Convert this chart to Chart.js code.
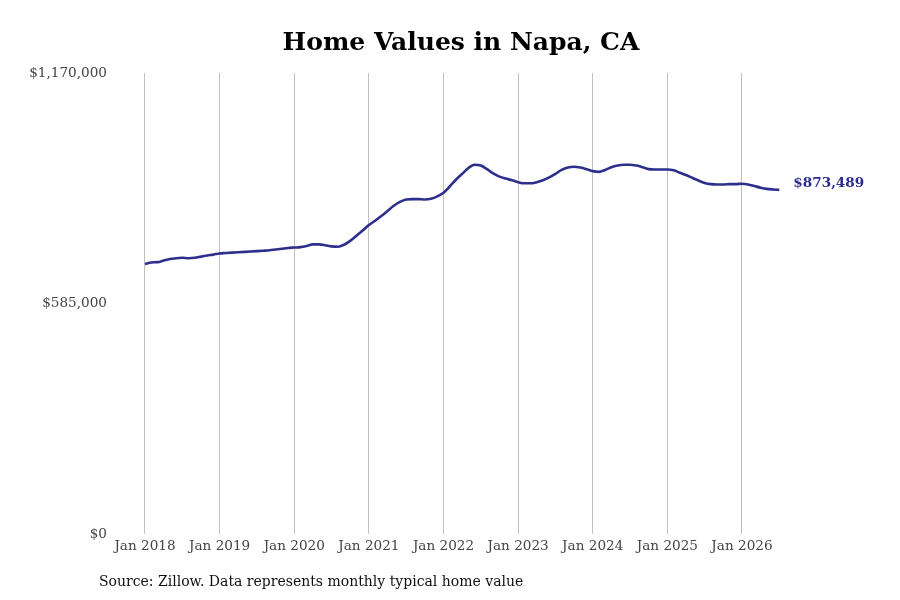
<!DOCTYPE html>
<html>
<head>
<meta charset="utf-8">
<script src="https://cdn.jsdelivr.net/npm/chart.js@4.4.1/dist/chart.umd.min.js"></script>
<style>
  html, body { margin: 0; padding: 0; background: #ffffff; }
  #wrap { width: 900px; height: 600px; position: relative; }
</style>
</head>
<body>
<div id="wrap"><canvas id="c" width="900" height="600"></canvas></div>
<script>
// ---- Data (monthly typical home value, starting Jan 2018) ----
const startYear = 2018;
const homeValues = [
  685000, 689000, 690000, 694000, 698000, 700000, 701000, 700000, 701000, 704000, 707000, 709000,
  712000, 713000, 714000, 715000, 716000, 717000, 718000, 719000, 720000, 722000, 724000, 726000,
  727000, 728000, 731000, 735000, 735000, 733000, 730000, 729000, 734000, 744000, 757000, 770000,
  784000, 795000, 807000, 820000, 833000, 843000, 849000, 850000, 850000, 849000, 851000, 857000,
  866000, 882000, 899000, 914000, 929000, 937000, 935000, 926000, 915000, 907000, 902000, 898000,
  893000, 890000, 890000, 893000, 898000, 905000, 914000, 924000, 930000, 932000, 930000, 926000,
  921000, 919000, 924000, 931000, 935000, 937000, 937000, 935000, 931000, 926000, 925000, 925000,
  925000, 923000, 917000, 911000, 904000, 897000, 891000, 888000, 887000, 887000, 888000, 888000,
  889000, 887000, 883000, 879000, 876000, 874500, 873489
];
const xTickLabels = ["Jan 2018","Jan 2019","Jan 2020","Jan 2021","Jan 2022","Jan 2023","Jan 2024","Jan 2025","Jan 2026"];
const yTickValues = [0, 585000, 1170000];
const titleText = "Home Values in Napa, CA";
const sourceText = "Source: Zillow. Data represents monthly typical home value";

const lineColor = "#2e2e8c";
const points = homeValues.map((v, i) => ({ x: i, y: v }));
const fmt = v => "$" + Math.round(v).toLocaleString("en-US");

const overlay = {
  id: "overlay",
  afterDatasetsDraw(chart) {
    const ctx = chart.ctx;
    const meta = chart.getDatasetMeta(0);
    const last = meta.data[meta.data.length - 1];
    ctx.save();
    ctx.font = "bold 13.6px 'DejaVu Serif'";
    ctx.fillStyle = lineColor;
    ctx.textAlign = "left";
    ctx.textBaseline = "middle";
    ctx.fillText(fmt(homeValues[homeValues.length - 1]), last.x + 14, last.y - 6.5);
    ctx.font = "14px 'DejaVu Serif'";
    ctx.fillStyle = "#111111";
    ctx.fillText(sourceText, 99, 582);
    ctx.restore();
  }
};

new Chart(document.getElementById("c"), {
  type: "line",
  data: {
    datasets: [{
      data: points,
      borderColor: lineColor,
      borderWidth: 2.6,
      pointRadius: 0,
      cubicInterpolationMode: "monotone",
      fill: false
    }]
  },
  options: {
    responsive: false,
    animation: false,
    devicePixelRatio: 1,
    layout: { padding: { left: 22, right: 0, top: 0, bottom: 0 } },
    plugins: {
      legend: { display: false },
      tooltip: { enabled: false },
      title: {
        display: true,
        text: titleText,
        color: "#000000",
        font: { family: "'DejaVu Serif'", size: 25, weight: "bold" },
        padding: { top: 28, bottom: 15 }
      }
    },
    scales: {
      x: {
        type: "linear",
        min: -4.823,
        max: 121.41,
        afterFit(s) { s.height = 66; },
        afterBuildTicks(s) {
          s.ticks = xTickLabels.map((_, i) => ({ value: i * 12 }));
        },
        ticks: {
          callback: (v) => xTickLabels[Math.round(v / 12)] || "",
          color: "#444444",
          font: { family: "'DejaVu Serif'", size: 13.6 },
          padding: 4,
          maxRotation: 0,
          autoSkip: false
        },
        grid: { display: true, color: "#c0c0c0", lineWidth: 1, drawTicks: false },
        border: { display: false }
      },
      y: {
        min: 0,
        max: 1170000,
        afterFit(s) { s.width = 93; },
        afterBuildTicks(s) { s.ticks = yTickValues.map(v => ({ value: v })); },
        ticks: {
          callback: (v) => fmt(v),
          color: "#444444",
          font: { family: "'DejaVu Serif'", size: 13.6 },
          padding: 8
        },
        grid: { display: false, drawTicks: false },
        border: { display: false }
      }
    }
  },
  plugins: [overlay]
});
</script>
</body>
</html>
